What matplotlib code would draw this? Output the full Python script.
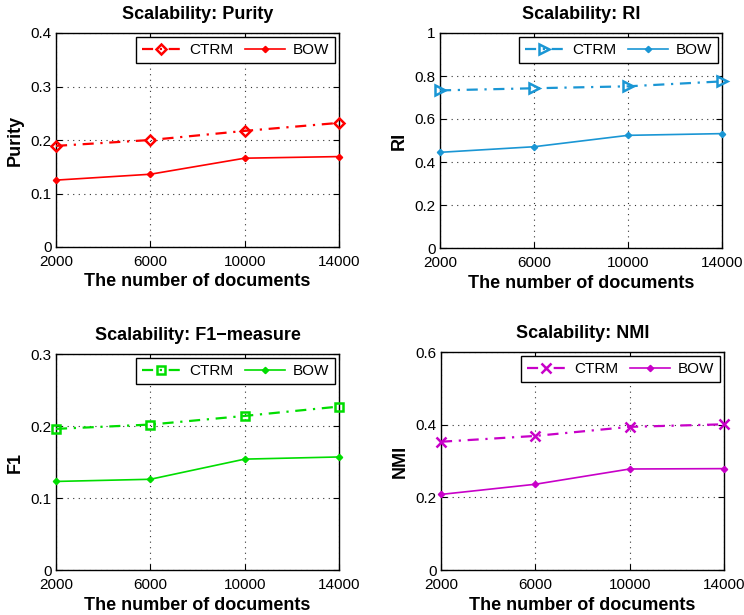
import matplotlib
matplotlib.use("Agg")
import matplotlib.pyplot as plt

plt.rcParams['font.family'] = ['Liberation Sans', 'DejaVu Sans']

docs = [2000, 6000, 10000, 14000]
x_ticks = [2000, 6000, 10000, 14000]

purity_ctrm = [0.189, 0.200, 0.217, 0.232]
purity_bow = [0.125, 0.136, 0.166, 0.169]
ri_ctrm = [0.733, 0.743, 0.752, 0.775]
ri_bow = [0.445, 0.471, 0.524, 0.532]
f1_ctrm = [0.196, 0.202, 0.214, 0.227]
f1_bow = [0.123, 0.126, 0.154, 0.157]
nmi_ctrm = [0.353, 0.369, 0.394, 0.401]
nmi_bow = [0.208, 0.236, 0.278, 0.279]

panels = [
    dict(title='Scalability: Purity', ylabel='Purity', ctrm=purity_ctrm, bow=purity_bow,
         color='#ff0000', marker='D', ms=5.5, yticks=[0, 0.1, 0.2, 0.3, 0.4],
         yticklabels=['0', '0.1', '0.2', '0.3', '0.4'],
         rect=(56, 33, 339, 247)),
    dict(title='Scalability: RI', ylabel='RI', ctrm=ri_ctrm, bow=ri_bow,
         color='#1a96d4', marker='>', ms=7, yticks=[0, 0.2, 0.4, 0.6, 0.8, 1.0],
         yticklabels=['0', '0.2', '0.4', '0.6', '0.8', '1'],
         rect=(440, 33, 722, 248)),
    dict(title='Scalability: F1\u2212measure', ylabel='F1', ctrm=f1_ctrm, bow=f1_bow,
         color='#00dd00', marker='s', ms=5.5, yticks=[0, 0.1, 0.2, 0.3],
         yticklabels=['0', '0.1', '0.2', '0.3'],
         rect=(56, 354, 339, 570)),
    dict(title='Scalability: NMI', ylabel='NMI', ctrm=nmi_ctrm, bow=nmi_bow,
         color='#c800c8', marker='x', ms=7, yticks=[0, 0.2, 0.4, 0.6],
         yticklabels=['0', '0.2', '0.4', '0.6'],
         rect=(441, 352, 724, 570)),
]

W, H = 744, 615
fig = plt.figure(figsize=(W / 100, H / 100), dpi=100)

for p in panels:
    l, t, r, b = p['rect']
    ax = fig.add_axes([l / W, 1 - b / H, (r - l) / W, (b - t) / H])
    c = p['color']
    ax.plot(docs, p['ctrm'], linestyle=(0, (5, 3, 1, 3)), color=c, lw=1.6, marker=p['marker'],
            ms=p['ms'], mfc='none', mec=c, mew=1.8, label='CTRM', clip_on=False, zorder=3)
    ax.plot(docs, p['bow'], linestyle='-', color=c, lw=1.2, marker='D', ms=3.2,
            mfc=c, mec=c, label='BOW', clip_on=False, zorder=3)
    ax.set_xlim(2000, 14000)
    ax.set_ylim(p['yticks'][0], p['yticks'][-1])
    ax.set_xticks(x_ticks)
    ax.set_xticklabels([str(v) for v in x_ticks])
    ax.set_yticks(p['yticks'])
    ax.set_yticklabels(p['yticklabels'])
    ax.grid(True, linestyle=(0, (1, 4)), color='#333333', lw=0.8)
    ax.tick_params(direction='in', top=True, right=True, labelsize=11, length=4)
    ax.tick_params(axis='x', pad=6)
    ax.tick_params(axis='y', pad=3)
    for s in ax.spines.values():
        s.set_linewidth(1.0)
    ax.set_title(p['title'], fontsize=13, fontweight='bold', pad=10)
    ax.set_ylabel(p['ylabel'], fontsize=13, fontweight='bold', labelpad=5)
    ax.set_xlabel('The number of documents', fontsize=13, fontweight='bold', labelpad=3)
    leg = ax.legend(loc='upper right', ncol=2, fontsize=11, frameon=True, fancybox=False,
                    edgecolor='black', framealpha=1, borderaxespad=0.25,
                    handlelength=2.6, columnspacing=0.8, handletextpad=0.5,
                    borderpad=0.4)
    leg.get_frame().set_linewidth(1.0)

fig.savefig('out.png', dpi=100)
